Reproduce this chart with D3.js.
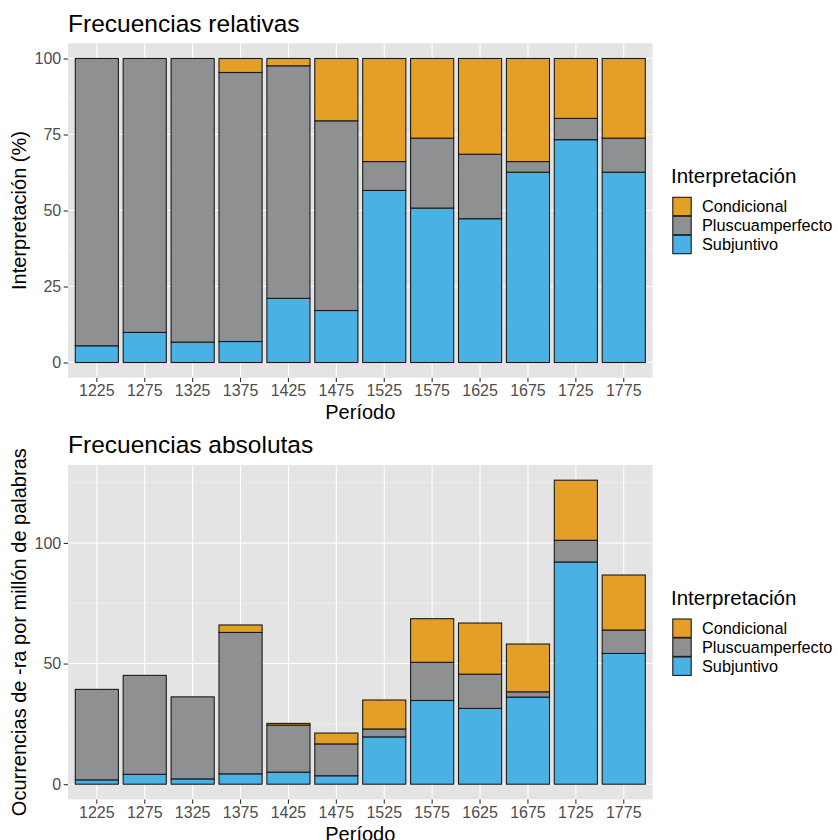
<!DOCTYPE html>
<html>
<head>
<meta charset="utf-8">
<script src="https://cdn.jsdelivr.net/npm/d3@7"></script>
<style>
  html, body { margin: 0; padding: 0; background: #ffffff; }
  svg { display: block; }
  text { font-family: "Liberation Sans", Arial, Helvetica, sans-serif; }
</style>
</head>
<body>
<script>
// Periods (50-year bins) on the x axis
const periods = ["1225", "1275", "1325", "1375", "1425", "1475", "1525", "1575", "1625", "1675", "1725", "1775"];

// Interpretation categories, from the bottom of each stack to the top
const categories = ["Subjuntivo", "Pluscuamperfecto", "Condicional"];
const legendOrder = ["Condicional", "Pluscuamperfecto", "Subjuntivo"];
const colors = { Condicional: "#E49F26", Pluscuamperfecto: "#8F9092", Subjuntivo: "#49B1E3" };

// Relative frequencies (%)
const subjRel   = [5.5, 9.9, 6.7, 6.9, 21.1, 17.1, 56.6, 50.8, 47.3, 62.6, 73.3, 62.6];
const pluscRel  = [94.5, 90.1, 93.3, 88.5, 76.5, 62.4, 9.5, 23.0, 21.2, 3.5, 7.0, 11.2];
const condRel   = [0, 0, 0, 4.6, 2.4, 20.5, 33.9, 26.2, 31.5, 33.9, 19.7, 26.2];

// Absolute frequencies (occurrences of -ra per million words)
const subjAbs   = [1.8, 4.1, 2.2, 4.3, 5.0, 3.5, 19.6, 34.7, 31.4, 36.1, 92.1, 54.2];
const pluscAbs  = [37.5, 41.0, 34.0, 58.6, 19.5, 13.2, 3.3, 15.8, 14.2, 2.2, 9.0, 9.7];
const condAbs   = [0, 0, 0, 3.1, 0.7, 4.5, 12.0, 18.1, 21.2, 19.8, 24.9, 22.8];

// Axis ticks
const relTicks = [0, 25, 50, 75, 100];
const relMinor = [12.5, 37.5, 62.5, 87.5];
const absTicks = [0, 50, 100];
const absMinor = [25, 75, 125];

const W = 838, H = 840;
const svg = d3.select("body").append("svg").attr("width", W).attr("height", H);

function buildRows(subj, plusc, cond) {
  return periods.map((p, i) => ({
    period: p,
    Subjuntivo: subj[i],
    Pluscuamperfecto: plusc[i],
    Condicional: cond[i]
  }));
}

function drawPlot(cfg) {
  const g = svg.append("g").attr("transform", `translate(0,${cfg.offsetY})`);
  const left = 68.1, right = 652.5, top = 43.3, bottom = 377.7;

  const rows = buildRows(cfg.subj, cfg.plusc, cfg.cond);
  const totals = rows.map(r => categories.reduce((s, k) => s + r[k], 0));
  const maxTotal = cfg.domainMax != null ? cfg.domainMax : d3.max(totals);
  const pad = maxTotal * 0.05;

  const x = d3.scaleBand().domain(periods).range([left, right])
    .paddingInner(0.1).paddingOuter(0.15);
  const y = d3.scaleLinear().domain([-pad, maxTotal + pad]).range([bottom, top]);

  // Panel background
  g.append("rect").attr("x", left).attr("y", top)
    .attr("width", right - left).attr("height", bottom - top)
    .attr("fill", "#E4E4E4");

  // Minor grid
  g.selectAll(".minor").data(cfg.minor).join("line")
    .attr("x1", left).attr("x2", right)
    .attr("y1", d => y(d)).attr("y2", d => y(d))
    .attr("stroke", "#F2F2F2").attr("stroke-width", 0.6);

  // Major grid
  g.selectAll(".majorY").data(cfg.ticks).join("line")
    .attr("x1", left).attr("x2", right)
    .attr("y1", d => y(d)).attr("y2", d => y(d))
    .attr("stroke", "#ffffff").attr("stroke-width", 1.1);
  g.selectAll(".majorX").data(periods).join("line")
    .attr("x1", d => x(d) + x.bandwidth() / 2).attr("x2", d => x(d) + x.bandwidth() / 2)
    .attr("y1", top).attr("y2", bottom)
    .attr("stroke", "#ffffff").attr("stroke-width", 1.1);

  // Stacked bars
  const stack = d3.stack().keys(categories);
  const series = stack(rows);
  series.forEach(s => {
    g.append("g").selectAll("rect")
      .data(s.filter(d => d[1] - d[0] > 0))
      .join("rect")
      .attr("x", d => x(d.data.period))
      .attr("width", x.bandwidth())
      .attr("y", d => y(d[1]))
      .attr("height", d => y(d[0]) - y(d[1]))
      .attr("fill", colors[s.key])
      .attr("stroke", "#1a1a1a")
      .attr("stroke-width", 1.1);
  });

  // Y axis
  const yAxis = d3.axisLeft(y).tickValues(cfg.ticks).tickSize(4.4).tickPadding(2.5);
  const ya = g.append("g").attr("transform", `translate(${left},0)`).call(yAxis);
  ya.select(".domain").remove();
  ya.selectAll(".tick line").attr("stroke", "#333333").attr("stroke-width", 1.1);
  ya.selectAll(".tick text").attr("fill", "#4D4D4D")
    .style("font-size", "16px").style("font-family", "'Liberation Sans', Arial, sans-serif");

  // X axis
  const xAxis = d3.axisBottom(x).tickSize(4.4).tickPadding(2.5);
  const xa = g.append("g").attr("transform", `translate(0,${bottom})`).call(xAxis);
  xa.select(".domain").remove();
  xa.selectAll(".tick line").attr("stroke", "#333333").attr("stroke-width", 1.1);
  xa.selectAll(".tick text").attr("fill", "#4D4D4D")
    .style("font-size", "16px").style("font-family", "'Liberation Sans', Arial, sans-serif");

  // Titles
  g.append("text").attr("x", left).attr("y", 31.5)
    .attr("fill", "#000").style("font-size", "24.5px").text(cfg.title);
  g.append("text").attr("x", (left + right) / 2).attr("y", 419)
    .attr("text-anchor", "middle").attr("fill", "#000")
    .style("font-size", "20px").text("Período");
  g.append("text")
    .attr("transform", `translate(26,${(top + bottom) / 2}) rotate(-90)`)
    .attr("text-anchor", "middle").attr("fill", "#000")
    .style("font-size", "20px").text(cfg.yTitle);

  // Legend
  const lg = g.append("g");
  lg.append("text").attr("x", 671).attr("y", 183)
    .attr("fill", "#000").style("font-size", "20.5px").text("Interpretación");
  const keySize = 18.4, keyStep = 19, keyTop = 197.3;
  legendOrder.forEach((k, i) => {
    lg.append("rect").attr("x", 672.8).attr("y", keyTop + i * keyStep)
      .attr("width", keySize).attr("height", keySize)
      .attr("fill", colors[k]).attr("stroke", "#1a1a1a").attr("stroke-width", 1.1);
    lg.append("text").attr("x", 702).attr("y", keyTop + i * keyStep + keySize / 2 + 5.8)
      .attr("fill", "#000").style("font-size", "16.3px").text(k);
  });
}

drawPlot({
  offsetY: 0,
  subj: subjRel, plusc: pluscRel, cond: condRel,
  domainMax: 100,
  ticks: relTicks, minor: relMinor,
  title: "Frecuencias relativas",
  yTitle: "Interpretación (%)"
});

drawPlot({
  offsetY: 421.7,
  subj: subjAbs, plusc: pluscAbs, cond: condAbs,
  domainMax: null,
  ticks: absTicks, minor: absMinor,
  title: "Frecuencias absolutas",
  yTitle: "Ocurrencias de -ra por millón de palabras"
});
</script>
</body>
</html>
